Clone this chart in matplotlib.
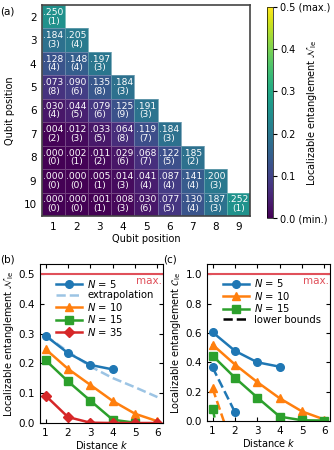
import numpy as np
import matplotlib
matplotlib.use("Agg")
import matplotlib.pyplot as plt
from matplotlib.lines import Line2D

plt.rcParams['font.size'] = 7
plt.rcParams['font.family'] = ['DejaVu Sans']

# ---- panel (a): heatmap data (row = qubit position i, col = j) ----
row_pos = [2, 3, 4, 5, 6, 7, 8, 9, 10]
col_pos = [1, 2, 3, 4, 5, 6, 7, 8, 9]
nle_vals = [
    [.250],
    [.184, .205],
    [.128, .148, .197],
    [.073, .090, .135, .184],
    [.030, .044, .079, .125, .191],
    [.004, .012, .033, .064, .119, .184],
    [.000, .002, .011, .029, .068, .122, .185],
    [.000, .000, .005, .014, .041, .087, .141, .200],
    [.000, .000, .001, .008, .030, .077, .130, .187, .252],
]
nle_err = [
    [1],
    [3, 4],
    [4, 4, 3],
    [8, 6, 8, 3],
    [4, 5, 6, 9, 3],
    [2, 3, 5, 8, 7, 3],
    [0, 1, 2, 6, 7, 5, 2],
    [0, 0, 1, 3, 4, 4, 4, 3],
    [0, 0, 1, 3, 6, 5, 4, 3, 1],
]

# ---- panel (b) ----
k_vals = [1, 2, 3, 4, 5, 6]
nle_n5 = [0.293, 0.235, 0.195, 0.180]
nle_extrap = [0.293, 0.240, 0.190, 0.151, 0.120, 0.087]
nle_n10 = [0.248, 0.182, 0.128, 0.074, 0.031, 0.006]
nle_n15 = [0.211, 0.140, 0.075, 0.011, 0.001]
nle_n35 = [0.092, 0.020, 0.001, 0.000, 0.000, 0.000]

# ---- panel (c) ----
cle_n5 = [0.605, 0.478, 0.400, 0.370]
cle_n10 = [0.520, 0.385, 0.265, 0.155, 0.065, 0.010]
cle_n15 = [0.445, 0.295, 0.160, 0.030, 0.005, 0.003]
cle_low_n5 = [0.365, 0.060]
cle_low_n10 = [0.222, -0.222]
cle_low_n15 = [0.085, -0.62]

max_color = '#e0505a'

fig = plt.figure(figsize=(3.34, 4.5), dpi=100)

# heatmap
ax = fig.add_axes([42/334, 1-216/450, 208/334, 211/450])
grid = np.full((len(row_pos), len(col_pos)), np.nan)
for r, row in enumerate(nle_vals):
    for c, v in enumerate(row):
        grid[r, c] = v
xe = np.arange(len(col_pos) + 1) + 0.5
ye = np.arange(len(row_pos) + 1) + 1.5
mesh = ax.pcolormesh(xe, ye, np.ma.masked_invalid(grid), cmap='viridis',
                     vmin=0, vmax=0.5, edgecolors=(1, 1, 1, 0.25), linewidth=0.4)
for r, row in enumerate(nle_vals):
    for c, v in enumerate(row):
        txt = ('%.3f' % v)[1:] + '\n(%d)' % nle_err[r][c]
        ax.text(col_pos[c], row_pos[r], txt, ha='center', va='center',
                color='white', fontsize=6.6, linespacing=0.95)
ax.set_xlim(0.5, 9.5)
ax.set_ylim(10.5, 1.5)
ax.set_xticks(col_pos)
ax.set_yticks(row_pos)
ax.tick_params(length=0, labelsize=7.5, pad=4)
ax.set_xlabel('Qubit position', labelpad=2)
ax.set_ylabel('Qubit position', labelpad=6)
for s in ax.spines.values():
    s.set_color('#444444')
    s.set_linewidth(1.2)

cax = fig.add_axes([267/334, 1-218/450, 6/334, 211/450])
cb = fig.colorbar(mesh, cax=cax)
cb.set_ticks([0, 0.1, 0.2, 0.3, 0.4, 0.5])
cb.set_ticklabels(['0.0 (min.)', '0.1', '0.2', '0.3', '0.4', '0.5 (max.)'])
cb.outline.set_linewidth(0.5)
cb.ax.tick_params(labelsize=7, length=3, pad=2)
cb.set_label(r'Localizable entanglement $\mathcal{N}_\mathrm{le}$', fontsize=7)
cb.ax.yaxis.set_label_coords(6.3, 0.5)

fig.text(0.0, 1-14/450, '(a)', fontsize=7.5)
fig.text(0.0, 1-262/450, '(b)', fontsize=7.5)
fig.text(163/334, 1-262/450, '(c)', fontsize=7.5)

# panel (b)
axb = fig.add_axes([40/334, 1-423/450, 123/334, 159/450])
axb.axhline(0.5, color=max_color, lw=1.5)
axb.text(6.2, 0.495, 'max.', color=max_color, ha='right', va='top', fontsize=7.5)
axb.plot(k_vals[:4], nle_n5, '-o', color='C0', lw=1.8, ms=5.5, label=r'$N$ = 5', zorder=4)
axb.plot(k_vals, nle_extrap, '--', color='#9cc4e4', lw=1.8, label='extrapolation', zorder=3)
axb.plot(k_vals, nle_n10, '-^', color='C1', lw=1.8, ms=6, label=r'$N$ = 10')
axb.plot(k_vals[:5], nle_n15, '-s', color='C2', lw=1.8, ms=5.5, label=r'$N$ = 15')
axb.plot(k_vals, nle_n35, '-D', color='C3', lw=1.8, ms=5, label=r'$N$ = 35')
axb.set_xlim(0.75, 6.25)
axb.set_ylim(0, 0.534)
axb.set_xticks(k_vals)
axb.set_yticks([0, 0.1, 0.2, 0.3, 0.4, 0.5])
axb.set_xlabel(r'Distance $k$', labelpad=1)
axb.set_ylabel(r'Localizable entanglement $\mathcal{N}_\mathrm{le}$', labelpad=2)
axb.tick_params(direction='in', top=True, right=True, labelsize=7.5, length=3)
axb.legend(loc='upper left', bbox_to_anchor=(0.1, 0.94), frameon=False, fontsize=7.2,
           labelspacing=0.05, handlelength=2.6, handletextpad=0.5, borderaxespad=0)

# panel (c)
axc = fig.add_axes([207/334, 1-421/450, 123/334, 157/450])
axc.axhline(1.0, color=max_color, lw=1.5)
axc.text(6.2, 0.99, 'max.', color=max_color, ha='right', va='top', fontsize=7.5)
axc.plot(k_vals[:4], cle_n5, '-o', color='C0', lw=1.8, ms=5.5)
axc.plot(k_vals, cle_n10, '-^', color='C1', lw=1.8, ms=6)
axc.plot(k_vals, cle_n15, '-s', color='C2', lw=1.8, ms=5.5)
axc.plot(k_vals[:2], cle_low_n5, '--o', color='C0', lw=1.8, ms=5.5)
axc.plot(k_vals[:2], cle_low_n10, '--^', color='C1', lw=1.8, ms=6)
axc.plot(k_vals[:2], cle_low_n15, '--s', color='C2', lw=1.8, ms=5.5)
axc.set_xlim(0.75, 6.25)
axc.set_ylim(0, 1.07)
axc.set_xticks(k_vals)
axc.set_yticks([0, 0.2, 0.4, 0.6, 0.8, 1.0])
axc.set_xlabel(r'Distance $k$', labelpad=1)
axc.set_ylabel(r'Localizable entanglement $\mathcal{C}_\mathrm{le}$', labelpad=2)
axc.tick_params(direction='in', top=True, right=True, labelsize=7.5, length=3)
handles = [
    Line2D([], [], color='C0', marker='o', lw=1.8, ms=5.5, label=r'$N$ = 5'),
    Line2D([], [], color='C1', marker='^', lw=1.8, ms=6, label=r'$N$ = 10'),
    Line2D([], [], color='C2', marker='s', lw=1.8, ms=5.5, label=r'$N$ = 15'),
    Line2D([], [], color='black', ls='--', lw=1.8, label='lower bounds'),
]
axc.legend(handles=handles, loc='upper left', bbox_to_anchor=(0.1, 0.94), frameon=False,
           fontsize=7.2, labelspacing=0.05, handlelength=2.6, handletextpad=0.5, borderaxespad=0)

fig.savefig('out.png', dpi=100)
